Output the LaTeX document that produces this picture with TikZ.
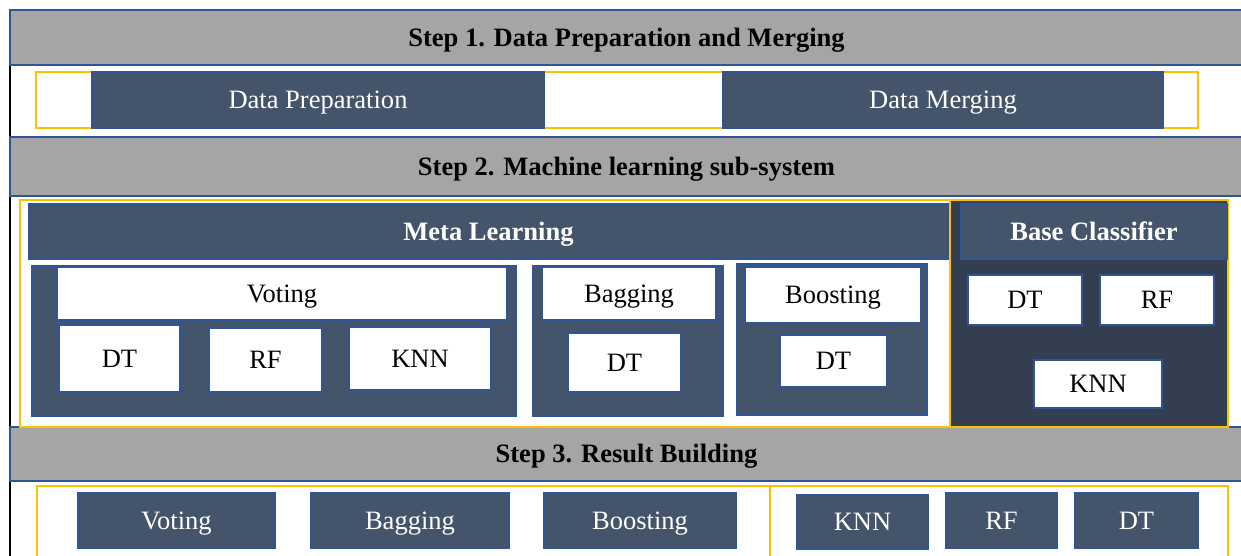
\documentclass[tikz,border=0pt]{standalone}
\usepackage{fontspec}
\setmainfont{Liberation Serif}
\definecolor{stepgray}{HTML}{A5A5A5}
\definecolor{edgeblue}{HTML}{2F5597}
\definecolor{slate}{HTML}{44546A}
\definecolor{darkslate}{HTML}{333F50}
\definecolor{gold}{HTML}{FFC000}
\newcommand{\figfont}{\fontsize{15.1}{18}\selectfont}
\tikzset{
    dim/.style 2 args={minimum width=#1*0.02cm, minimum height=#2*0.02cm},
    boxtext/.style={inner sep=0pt, text height=10pt, text depth=0pt, font=\figfont},
    stepbar/.style={boxtext, draw=edgeblue, line width=1.1pt, fill=stepgray, font=\figfont\bfseries},
    group/.style={draw=gold, line width=1.1pt, inner sep=0pt},
    darkbox/.style={boxtext, draw=edgeblue, line width=1pt, fill=slate, text=white},
    lightbox/.style={boxtext, draw=edgeblue, line width=1pt, fill=white},
}
\begin{document}
\begin{tikzpicture}[x=0.02cm, y=-0.02cm]
        \path[use as bounding box, clip] (0,0) rectangle (1241,555);

        % left frame line
        \coordinate (frametop) at (10,65);
        \coordinate (framebot) at (10,560);
        \draw[line width=1.1pt] (frametop) -- (framebot);

        % step bars
        \node[stepbar, dim={1233}{55}] (step1) at (626.5,37.5) {Step 1. Data Preparation and Merging};
        \node[stepbar, dim={1233}{59}] (step2) at (626.5,166.5) {Step 2. Machine learning sub-system};
        \node[stepbar, dim={1233}{54}] (step3) at (626.5,454) {Step 3. Result Building};

        % step 1
        \node[group, dim={1162}{56}] (prepgroup) at (617,100) {};
        \node[darkbox, dim={452}{56}] (prep) at (318,100) {Data Preparation};
        \node[darkbox, dim={440}{56}] (merge) at (943,100) {Data Merging};

        % step 2
        \node[group, dim={930}{227}] (metagroup) at (485,313.5) {};
        \node[group, fill=darkslate, dim={278}{227}] (basepanel) at (1089,313.5) {};
        \node[darkbox, dim={919}{55}, font=\figfont\bfseries] (meta) at (488.5,231.5) {Meta Learning};
        \node[darkbox, dim={266}{55}, font=\figfont\bfseries] (base) at (1094,231.5) {Base Classifier};

        \node[darkbox, dim={484}{150}] (votepanel) at (274,341) {};
        \node[lightbox, dim={450}{53}] (vote) at (282,293.5) {Voting};
        \node[lightbox, dim={121}{67}] (votedt) at (119.5,358.5) {DT};
        \node[lightbox, dim={113}{64}] (voterf) at (265.5,360) {RF};
        \node[lightbox, dim={142}{63}] (voteknn) at (420,358.5) {KNN};

        \node[darkbox, dim={190}{150}] (bagpanel) at (628,341) {};
        \node[lightbox, dim={174}{53}] (bag) at (629,293.5) {Bagging};
        \node[lightbox, dim={113}{59}] (bagdt) at (624.5,362.5) {DT};

        \node[darkbox, dim={190}{151}] (boostpanel) at (832,339.5) {};
        \node[lightbox, dim={176}{56}] (boost) at (833,295) {Boosting};
        \node[lightbox, dim={107}{52}] (boostdt) at (833.5,361) {DT};

        \node[lightbox, dim={114}{50}] (basedt) at (1025,300) {DT};
        \node[lightbox, dim={114}{50}] (baserf) at (1157,300) {RF};
        \node[lightbox, dim={128}{48}] (baseknn) at (1098,384) {KNN};

        % step 3
        \node[group, dim={733}{80}] (ensgroup) at (403.5,526) {};
        \node[group, dim={458}{80}] (singlegroup) at (999,526) {};
        \node[darkbox, dim={197}{55}] (resvote) at (176.5,520.5) {Voting};
        \node[darkbox, dim={198}{55}] (resbag) at (410,520.5) {Bagging};
        \node[darkbox, dim={192}{55}] (resboost) at (640,520.5) {Boosting};
        \node[darkbox, dim={131}{54}] (resknn) at (862.5,522) {KNN};
        \node[darkbox, dim={111}{55}] (resrf) at (1001.5,520.5) {RF};
        \node[darkbox, dim={123}{55}] (resdt) at (1136.5,520.5) {DT};

    \end{tikzpicture}
\end{document}
